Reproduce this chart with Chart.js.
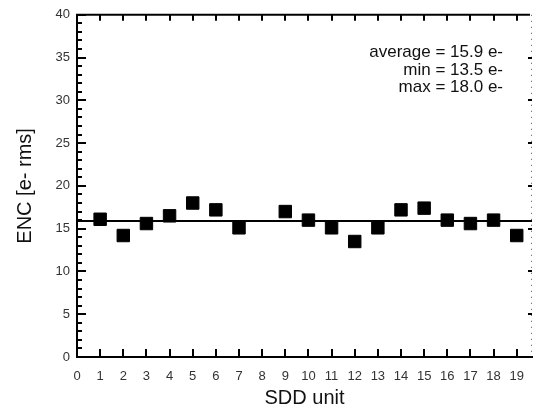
<!DOCTYPE html>
<html>
<head>
<meta charset="utf-8">
<script src="https://cdn.jsdelivr.net/npm/chart.js@4.4.1/dist/chart.umd.min.js"></script>
<style>
  html, body { margin: 0; padding: 0; background: #fff; overflow: hidden; }
  canvas { display: block; }
</style>
</head>
<body>
<canvas id="encChart" width="534" height="415"></canvas>
<script>
// SDD units (unit 8 has no measurement)
const units = [1, 2, 3, 4, 5, 6, 7, 9, 10, 11, 12, 13, 14, 15, 16, 17, 18, 19];
const encValues = [16.1, 14.2, 15.6, 16.5, 18.0, 17.2, 15.1, 17.0, 16.0, 15.1, 13.5, 15.1, 17.2, 17.4, 16.0, 15.6, 16.0, 14.2];
const xTicks = [0, 1, 2, 3, 4, 5, 6, 7, 8, 9, 10, 11, 12, 13, 14, 15, 16, 17, 18, 19];
const yTicks = [0, 5, 10, 15, 20, 25, 30, 35, 40];
const xRange = [0, 19.66];
const yRange = [0, 40];
const average = 15.9;
const statsText = ['average = 15.9 e-', 'min = 13.5 e-', 'max = 18.0 e-'];

const FONT = "'Liberation Sans', Arial, sans-serif";

const frameTicks = {
    id: 'frameTicks',
    afterDatasetsDraw(chart) {
        const { ctx, chartArea: a, scales: { x, y } } = chart;
        ctx.save();
        ctx.strokeStyle = '#000';
        ctx.lineWidth = 2;
        // top frame line
        ctx.beginPath();
        ctx.moveTo(a.left - 1, a.top);
        ctx.lineTo(a.right - 2, a.top);
        ctx.stroke();
        // bottom + top ticks (inward)
        xTicks.forEach(v => {
            const px = Math.round(x.getPixelForValue(v));
            ctx.beginPath();
            ctx.moveTo(px, a.bottom);
            ctx.lineTo(px, a.bottom - 8);
            ctx.stroke();
            if (v > 0) {
                ctx.beginPath();
                ctx.moveTo(px, a.top);
                ctx.lineTo(px, a.top + 6);
                ctx.stroke();
            }
        });
        // left ticks: major every 5, minor every 1
        for (let v = yRange[0]; v <= yRange[1]; v++) {
            const py = Math.round(y.getPixelForValue(v));
            const len = v % 5 === 0 ? 9 : 5;
            ctx.beginPath();
            ctx.moveTo(a.left, py);
            ctx.lineTo(a.left + len, py);
            ctx.stroke();
        }
        // right axis: dotted, light
        ctx.lineWidth = 1;
        ctx.strokeStyle = '#555';
        ctx.setLineDash([1, 5]);
        ctx.beginPath();
        ctx.moveTo(a.right - 0.5, a.top);
        ctx.lineTo(a.right - 0.5, a.bottom);
        ctx.stroke();
        ctx.setLineDash([]);
        ctx.lineWidth = 2;
        ctx.strokeStyle = '#000';
        yTicks.forEach(v => {
            if (v === 0 || v === 40) return;
            const py = Math.round(y.getPixelForValue(v));
            ctx.beginPath();
            ctx.moveTo(a.right, py);
            ctx.lineTo(a.right - 4, py);
            ctx.stroke();
        });
        // statistics text
        ctx.fillStyle = '#111';
        ctx.font = '17px ' + FONT;
        ctx.textAlign = 'right';
        ctx.textBaseline = 'middle';
        statsText.forEach((t, i) => {
            ctx.fillText(t, a.right - 29, a.top + 38 + i * 17.5);
        });
        ctx.restore();
    }
};

const ctx = document.getElementById('encChart').getContext('2d');
new Chart(ctx, {
    type: 'scatter',
    data: {
        datasets: [{
            label: 'average',
            type: 'line',
            data: [{ x: xRange[0], y: average }, { x: xRange[1], y: average }],
            borderColor: '#000',
            borderWidth: 2,
            pointRadius: 0,
            fill: false
        }, {
            label: 'ENC',
            data: units.map((u, i) => ({ x: u, y: encValues[i] })),
            pointStyle: 'rect',
            pointRadius: 8.8,
            pointBackgroundColor: '#000',
            pointBorderColor: '#000',
            pointBorderWidth: 1
        }]
    },
    options: {
        responsive: false,
        animation: false,
        events: [],
        layout: { autoPadding: false, padding: { left: 0, right: 2, top: 14, bottom: 0 } },
        plugins: { legend: { display: false }, tooltip: { enabled: false } },
        scales: {
            x: {
                type: 'linear',
                min: xRange[0],
                max: xRange[1],
                afterBuildTicks: s => { s.ticks = xTicks.map(v => ({ value: v })); },
                afterFit: s => { s.height = 58; },
                grid: { display: true, drawOnChartArea: false, drawTicks: true, tickLength: 12, tickColor: 'rgba(0,0,0,0)' },
                border: { display: true, color: '#000', width: 2 },
                ticks: { padding: 0, color: '#333', font: { family: FONT, size: 13 }, maxRotation: 0, autoSkip: false },
                title: { display: true, text: 'SDD unit', color: '#111', font: { family: FONT, size: 20 }, padding: { top: 0, bottom: 5 } }
            },
            y: {
                min: yRange[0],
                max: yRange[1],
                afterBuildTicks: s => { s.ticks = yTicks.map(v => ({ value: v })); },
                afterFit: s => { s.width = 77; },
                grid: { display: false, drawTicks: false },
                border: { display: true, color: '#000', width: 2 },
                ticks: { padding: 7, color: '#333', font: { family: FONT, size: 13 } },
                title: { display: true, text: 'ENC [e- rms]', color: '#111', font: { family: FONT, size: 20 }, padding: { top: 13, bottom: 0 } }
            }
        }
    },
    plugins: [frameTicks]
});
</script>
</body>
</html>
